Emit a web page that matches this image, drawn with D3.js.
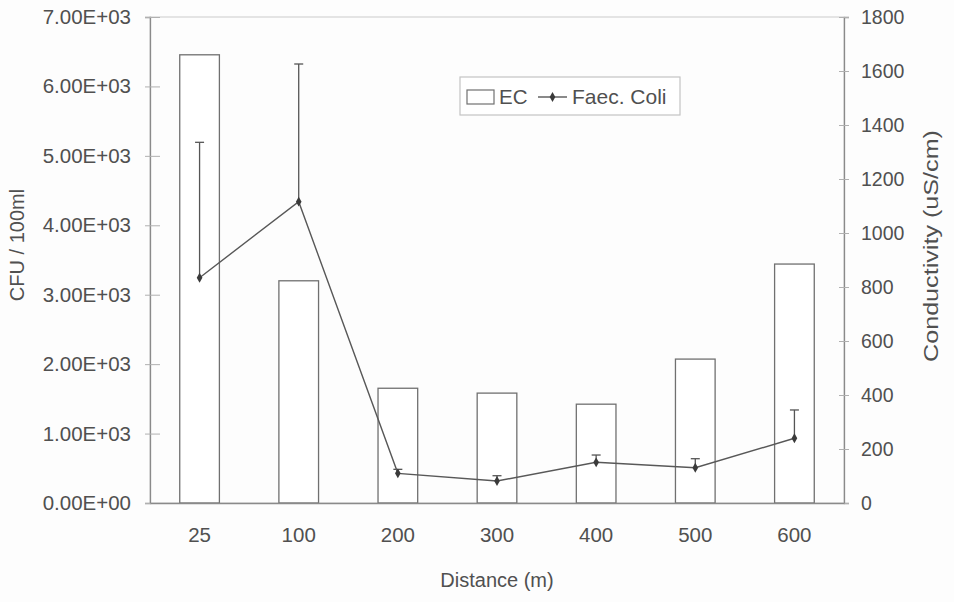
<!DOCTYPE html>
<html>
<head>
<meta charset="utf-8">
<script src="https://cdn.jsdelivr.net/npm/d3@7"></script>
<style>
  html, body { margin: 0; padding: 0; background: #fdfdfd; }
  svg { display: block; font-family: "Liberation Sans", Arial, sans-serif; }
</style>
</head>
<body>
<svg id="chart" width="954" height="602"></svg>
<script>
// ---- data ----
const categories = ["25", "100", "200", "300", "400", "500", "600"];
const ecValues = [1660, 823, 425, 407, 366, 533, 885];          // Conductivity (uS/cm), right axis
const faecColiValues = [3245, 4340, 427, 317, 586, 508, 932];   // CFU / 100ml, left axis
const faecColiErrors = [1950, 1983, 58, 76, 105, 130, 408];     // upper error bars
const leftTicks = [0, 1000, 2000, 3000, 4000, 5000, 6000, 7000];
const rightTicks = [0, 200, 400, 600, 800, 1000, 1200, 1400, 1600, 1800];

// ---- layout ----
const svg = d3.select("#chart");
const plot = { left: 150, right: 844, top: 17, bottom: 503 };
const textColor = "#505050";
const axisColor = "#8a8a8a";

const x = d3.scaleBand().domain(categories).range([plot.left, plot.right]).paddingInner(0).paddingOuter(0);
const yLeft = d3.scaleLinear().domain([0, 7000]).range([plot.bottom, plot.top]);
const yRight = d3.scaleLinear().domain([0, 1800]).range([plot.bottom, plot.top]);

function sci(v) {
  if (v === 0) return "0.00E+00";
  const e = Math.floor(Math.log10(Math.abs(v)));
  const m = v / Math.pow(10, e);
  return m.toFixed(2) + "E" + (e < 0 ? "-" : "+") + String(Math.abs(e)).padStart(2, "0");
}

// plot frame
svg.append("rect")
  .attr("x", plot.left).attr("y", plot.top)
  .attr("width", plot.right - plot.left).attr("height", plot.bottom - plot.top)
  .attr("fill", "none").attr("stroke", "#cccccc").attr("stroke-width", 1);

// bars (EC)
const barW = x.bandwidth() * 0.4;
svg.append("g").selectAll("rect").data(categories).join("rect")
  .attr("x", (d) => x(d) + (x.bandwidth() - barW) / 2)
  .attr("y", (d, i) => yRight(ecValues[i]))
  .attr("width", barW)
  .attr("height", (d, i) => yRight(0) - yRight(ecValues[i]))
  .attr("fill", "#ffffff")
  .attr("stroke", "#707070")
  .attr("stroke-width", 1.3);

// left axis
const leftAxis = d3.axisLeft(yLeft).tickValues(leftTicks).tickFormat(sci).tickSize(5).tickPadding(14);
const gl = svg.append("g").attr("transform", `translate(${plot.left},0)`).call(leftAxis);
gl.select(".domain").attr("stroke", axisColor).attr("stroke-width", 1.3);
gl.selectAll(".tick line").attr("stroke", "#b0b0b0").attr("x2", 10).attr("x1", -5);
gl.selectAll(".tick text").attr("fill", textColor).attr("font-size", 20.5).attr("font-family", "Liberation Sans, Arial, sans-serif");

// right axis
const rightAxis = d3.axisRight(yRight).tickValues(rightTicks).tickFormat(d3.format("d")).tickSize(5).tickPadding(12);
const gr = svg.append("g").attr("transform", `translate(${plot.right},0)`).call(rightAxis);
gr.select(".domain").attr("stroke", axisColor).attr("stroke-width", 1.3);
gr.selectAll(".tick line").attr("stroke", "#b0b0b0").attr("x1", -5).attr("x2", 5);
gr.selectAll(".tick text").attr("fill", textColor).attr("font-size", 19.5).attr("font-family", "Liberation Sans, Arial, sans-serif");

// bottom axis
const bottomAxis = d3.axisBottom(x).tickSize(0).tickPadding(24);
const gb = svg.append("g").attr("transform", `translate(0,${plot.bottom})`).call(bottomAxis);
gb.select(".domain").attr("stroke", axisColor).attr("stroke-width", 1.3);
gb.selectAll(".tick text").attr("fill", textColor).attr("font-size", 20.5).attr("font-family", "Liberation Sans, Arial, sans-serif");

// error bars (upper only)
const cx = (d) => x(d) + x.bandwidth() / 2;
const err = svg.append("g").attr("stroke", "#555").attr("stroke-width", 1.3);
categories.forEach((c, i) => {
  const xc = cx(c);
  const y0 = yLeft(faecColiValues[i]);
  const y1 = yLeft(faecColiValues[i] + faecColiErrors[i]);
  err.append("line").attr("x1", xc).attr("x2", xc).attr("y1", y0).attr("y2", y1);
  err.append("line").attr("x1", xc - 4.5).attr("x2", xc + 4.5).attr("y1", y1).attr("y2", y1);
});

// line (Faec. Coli)
const line = d3.line().x((d, i) => cx(categories[i])).y((d) => yLeft(d));
svg.append("path").datum(faecColiValues)
  .attr("d", line).attr("fill", "none").attr("stroke", "#585858").attr("stroke-width", 1.4);

const diamond = d3.symbol().type(d3.symbolDiamond).size(28);
svg.append("g").selectAll("path").data(faecColiValues).join("path")
  .attr("d", diamond)
  .attr("transform", (d, i) => `translate(${cx(categories[i])},${yLeft(d)})`)
  .attr("fill", "#3a3a3a");

// axis titles
svg.append("text")
  .attr("transform", `translate(24,245) rotate(-90)`)
  .attr("text-anchor", "middle")
  .attr("fill", textColor).attr("font-size", 20)
  .text("CFU / 100ml");

svg.append("text")
  .attr("transform", `translate(938,246) rotate(-90)`)
  .attr("text-anchor", "middle")
  .attr("fill", textColor).attr("font-size", 20)
  .attr("textLength", 232).attr("lengthAdjust", "spacingAndGlyphs")
  .text("Conductivity (uS/cm)");

svg.append("text")
  .attr("x", (plot.left + plot.right) / 2).attr("y", 587)
  .attr("text-anchor", "middle")
  .attr("fill", textColor).attr("font-size", 20)
  .text("Distance (m)");

// legend
const lg = svg.append("g");
lg.append("rect").attr("x", 460).attr("y", 77).attr("width", 220).attr("height", 38)
  .attr("fill", "#ffffff").attr("stroke", "#c4c4c4").attr("stroke-width", 1.2);
lg.append("rect").attr("x", 467).attr("y", 90).attr("width", 27).attr("height", 14)
  .attr("fill", "#ffffff").attr("stroke", "#707070").attr("stroke-width", 1.2);
lg.append("text").attr("x", 499).attr("y", 104).attr("fill", textColor).attr("font-size", 20.5).text("EC");
lg.append("line").attr("x1", 538).attr("x2", 567).attr("y1", 97).attr("y2", 97)
  .attr("stroke", "#585858").attr("stroke-width", 1.4);
lg.append("path").attr("d", diamond).attr("transform", "translate(552.5,97)").attr("fill", "#3a3a3a");
lg.append("text").attr("x", 572).attr("y", 104).attr("fill", textColor).attr("font-size", 21).text("Faec. Coli");
</script>
</body>
</html>
